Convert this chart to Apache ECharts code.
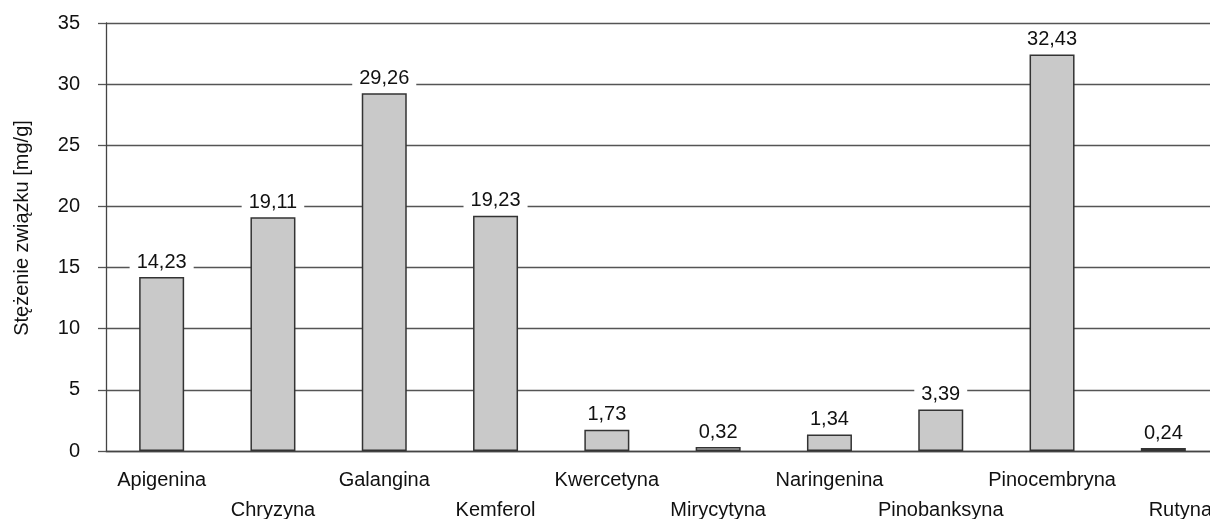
<!DOCTYPE html>
<html>
<head>
<meta charset="utf-8">
<script src="https://cdn.jsdelivr.net/npm/echarts@6/dist/echarts.min.js"></script>
<style>
  html, body { margin: 0; padding: 0; background: #fff; }
  #chart { width: 1210px; height: 519px; }
</style>
</head>
<body>
<div id="chart"></div>
<script>
// Flavonoid concentrations
const categories = ['Apigenina', 'Chryzyna', 'Galangina', 'Kemferol', 'Kwercetyna',
  'Mirycytyna', 'Naringenina', 'Pinobanksyna', 'Pinocembryna', 'Rutyna'];
const values = [14.23, 19.11, 29.26, 19.23, 1.73, 0.32, 1.34, 3.39, 32.43, 0.24];
const yTicks = [0, 5, 10, 15, 20, 25, 30, 35];
const yTitle = 'Stężenie związku [mg/g]';

const FONT = '"Liberation Sans", Arial, Helvetica, sans-serif';
const chart = echarts.init(document.getElementById('chart'), null, { renderer: 'canvas' });

chart.setOption({
  animation: false,
  backgroundColor: '#fff',
  textStyle: { fontFamily: FONT, color: '#111' },
  grid: { left: 106, top: 23, width: 1113, height: 428, containLabel: false, outerBoundsMode: 'none' },
  xAxis: {
    type: 'category',
    data: categories,
    axisLine: { show: true, lineStyle: { color: '#444', width: 1.3 } },
    axisTick: { show: false },
    axisLabel: {
      interval: 0,
      margin: 14,
      fontSize: 20,
      lineHeight: 30,
      color: '#111',
      fontFamily: FONT,
      // alternate rows so long names do not collide
      formatter: function (v, i) {
        const text = (i === categories.length - 1) ? '{last|' + v + '}' : v;
        return i % 2 === 1 ? '\n' + text : text;
      },
      rich: {
        last: { fontSize: 20, lineHeight: 30, padding: [0, 0, 0, 34], fontFamily: FONT, color: '#111' }
      }
    }
  },
  yAxis: {
    type: 'value',
    min: yTicks[0],
    max: yTicks[yTicks.length - 1],
    interval: yTicks[1] - yTicks[0],
    name: yTitle,
    nameLocation: 'middle',
    nameRotate: 90,
    nameGap: 74,
    nameTextStyle: { fontSize: 20, color: '#111', fontFamily: FONT, padding: [0, 0, 0, 18] },
    axisLine: { show: true, lineStyle: { color: '#444', width: 1.3 } },
    axisTick: { show: true, length: 8, inside: false, lineStyle: { color: '#555', width: 1.3 } },
    axisLabel: {
      margin: 26,
      fontSize: 20,
      color: '#111',
      fontFamily: FONT,
      formatter: function (v) { return yTicks.indexOf(v) >= 0 ? String(v) : ''; }
    },
    splitLine: { show: true, lineStyle: { color: '#555', width: 1.3 } }
  },
  series: [{
    type: 'bar',
    data: values,
    barWidth: 45,
    itemStyle: { color: '#c9c9c9', borderColor: '#333', borderWidth: 1.5 },
    label: {
      show: true,
      position: 'top',
      distance: 5,
      fontSize: 20,
      color: '#111',
      fontFamily: FONT,
      backgroundColor: '#fff',
      padding: [2, 7, 0, 7],
      formatter: function (p) { return p.value.toFixed(2).replace('.', ','); }
    }
  }]
});
</script>
</body>
</html>
